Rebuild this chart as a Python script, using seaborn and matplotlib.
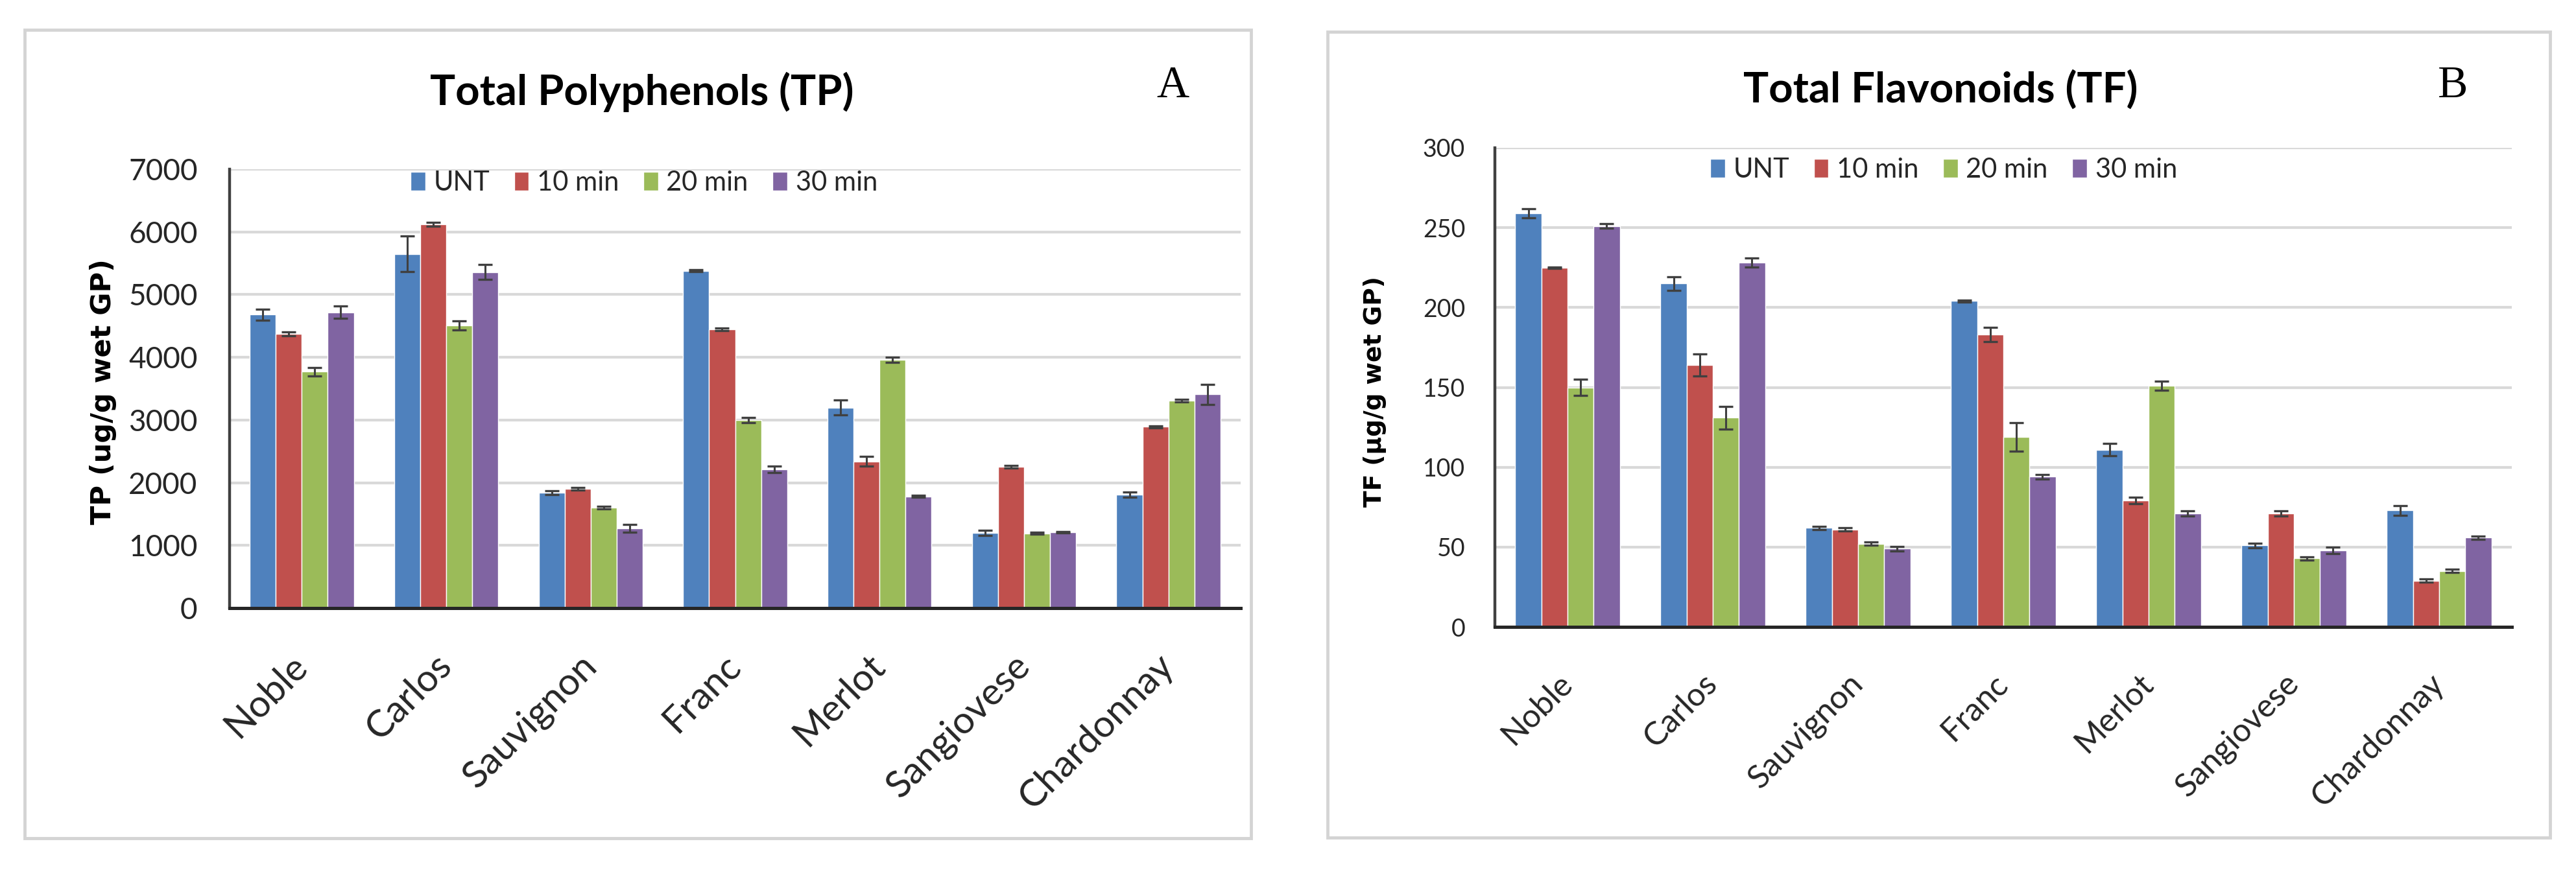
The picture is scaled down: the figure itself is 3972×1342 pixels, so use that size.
import numpy as np
import pandas as pd
import matplotlib
matplotlib.use('Agg')
import matplotlib.pyplot as plt
from matplotlib.patches import Rectangle
import seaborn as sns

# Data
varieties = ['Noble', 'Carlos', 'Sauvignon', 'Franc', 'Merlot', 'Sangiovese', 'Chardonnay']
treatments = ['UNT', '10 min', '20 min', '30 min']
colors = ['#4F81BD', '#C0504D', '#9BBB59', '#8064A2']

# Total polyphenols (ug/g wet GP)
tp_unt = [4680, 5650, 1840, 5380, 3200, 1200, 1810]
tp_10 = [4370, 6120, 1900, 4450, 2340, 2250, 2890]
tp_20 = [3770, 4510, 1600, 3000, 3960, 1190, 3310]
tp_30 = [4720, 5360, 1270, 2210, 1780, 1210, 3410]
tp_err_unt = [85, 280, 30, 15, 120, 40, 40]
tp_err_10 = [30, 35, 20, 20, 80, 20, 20]
tp_err_20 = [65, 70, 20, 40, 40, 15, 20]
tp_err_30 = [100, 120, 60, 50, 15, 15, 160]

# Total flavonoids (ug/g wet GP)
tf_unt = [259, 215, 62, 204, 111, 51, 73]
tf_10 = [225, 164, 61, 183, 79, 71, 29]
tf_20 = [150, 131, 52, 119, 151, 43, 35]
tf_30 = [251, 228, 49, 94, 71, 48, 56]
tf_err_unt = [3, 4.3, 1, 0.8, 4, 1.5, 3]
tf_err_10 = [0.5, 7, 1, 4.5, 2, 1.5, 1]
tf_err_20 = [5, 7, 1, 9, 3, 1, 1]
tf_err_30 = [1.5, 2.8, 1.5, 1.5, 1.5, 2, 1]

W, H = 3972, 1342
DPI = 100
SANS = ['Lato', 'DejaVu Sans']


def fx(px):
    return px / W


def fy(py):
    return 1 - py / H


def long_frame(series, errs, name):
    rows = []
    for t, vals, ers in zip(treatments, series, errs):
        for v, val, er in zip(varieties, vals, ers):
            rows.append({'Variety': v, 'Treatment': t, name: val, 'err': er})
    return pd.DataFrame(rows)


def draw_panel(ax, df, name, ymax, ystep, tick_fs, cat_fs, tick_len,
               leg_xy, leg_fs):
    sns.barplot(data=df, x='Variety', y=name, hue='Treatment',
                order=varieties, hue_order=treatments, palette=colors,
                width=0.72, gap=0, saturation=1, errorbar=None, ax=ax)

    # error bars on top of each bar
    for cont, t in zip(ax.containers, treatments):
        sub = df[df['Treatment'] == t].set_index('Variety').loc[varieties]
        xs = [p.get_x() + p.get_width() / 2 for p in cont.patches]
        ys = [p.get_height() for p in cont.patches]
        ax.errorbar(xs, ys, yerr=sub['err'].values, fmt='none',
                    ecolor='#404040', elinewidth=2.2, capsize=8, capthick=2.4,
                    zorder=5)

    ax.set_ylim(0, ymax)
    ax.set_xlim(-0.5, len(varieties) - 0.5)
    ax.set_yticks(np.arange(0, ymax + 1, ystep))
    ax.set_xlabel('')
    ax.set_ylabel('')
    ax.set_axisbelow(True)
    ax.yaxis.grid(True, color='#D9D9D9', linewidth=3)
    ax.xaxis.grid(False)

    for s in ['top', 'right']:
        ax.spines[s].set_visible(False)
    ax.spines['left'].set_color('#404040')
    ax.spines['left'].set_linewidth(3.2)
    ax.spines['bottom'].set_color('#262626')
    ax.spines['bottom'].set_linewidth(3.6)

    ax.tick_params(axis='y', direction='out', length=tick_len, width=3,
                   color='#404040', pad=24, labelsize=tick_fs,
                   labelcolor='#262626')
    ax.tick_params(axis='x', length=0, pad=58)
    for lab in ax.get_yticklabels():
        lab.set_family(SANS)
    ax.set_xticks(range(len(varieties)))
    ax.set_xticklabels(varieties, rotation=45, ha='right', va='center',
                       rotation_mode='anchor', fontsize=cat_fs,
                       family=SANS, color='#262626')

    handles, labels = ax.get_legend_handles_labels()
    ax.legend(handles, labels, loc='center', bbox_to_anchor=leg_xy,
              bbox_transform=ax.figure.transFigure, ncol=4, frameon=False,
              handlelength=0.55, handleheight=0.7, handletextpad=0.3,
              columnspacing=0.9, borderaxespad=0,
              prop={'family': SANS, 'size': leg_fs})


def main():
    sns.set_theme(style='white')
    plt.rcParams['font.family'] = SANS

    fig = plt.figure(figsize=(W / DPI, H / DPI), dpi=DPI, facecolor='white')

    # panel frames
    for x0, y0, x1, y1 in [(38, 46, 1929, 1293), (2047, 49, 3932, 1292)]:
        fig.patches.append(Rectangle((fx(x0), fy(y1)), fx(x1) - fx(x0),
                                     fy(y0) - fy(y1), transform=fig.transFigure,
                                     fill=False, edgecolor='#D4D4D4',
                                     linewidth=3.5))

    ax_a = fig.add_axes([fx(354), fy(938), fx(1913) - fx(354), fy(261) - fy(938)])
    ax_b = fig.add_axes([fx(2305), fy(967), fx(3873) - fx(2305), fy(228) - fy(967)])

    df_tp = long_frame([tp_unt, tp_10, tp_20, tp_30],
                       [tp_err_unt, tp_err_10, tp_err_20, tp_err_30], 'TP')
    df_tf = long_frame([tf_unt, tf_10, tf_20, tf_30],
                       [tf_err_unt, tf_err_10, tf_err_20, tf_err_30], 'TF')

    draw_panel(ax_a, df_tp, 'TP', 7000, 1000, 33, 42, 11.5,
               (fx(993), fy(282)), 30)
    draw_panel(ax_b, df_tf, 'TF', 300, 50, 27, 36, 9,
               (fx(2997), fy(262)), 30)

    # titles, panel letters and y labels
    fig.text(fx(990), fy(142), 'Total Polyphenols (TP)', ha='center', va='center',
             fontsize=47, fontweight='bold', family=SANS, color='black')
    fig.text(fx(2992), fy(138), 'Total Flavonoids (TF)', ha='center', va='center',
             fontsize=47, fontweight='bold', family=SANS, color='black')
    fig.text(fx(1808), fy(133), 'A', ha='center', va='center', fontsize=50,
             family=['Liberation Serif', 'DejaVu Serif'], color='black')
    fig.text(fx(3782), fy(133), 'B', ha='center', va='center', fontsize=50,
             family=['Liberation Serif', 'DejaVu Serif'], color='black')
    fig.text(fx(159), fy(604), 'TP (ug/g wet GP)', rotation=90, ha='center',
             va='center', fontsize=31, fontweight='bold', family='DejaVu Sans',
             color='black')
    fig.text(fx(2120), fy(604), 'TF (µg/g wet GP)', rotation=90, ha='center',
             va='center', fontsize=27, fontweight='bold', family='DejaVu Sans',
             color='black')

    fig.savefig('out.png', dpi=DPI, facecolor='white')
    plt.close(fig)


if __name__ == '__main__':
    main()
